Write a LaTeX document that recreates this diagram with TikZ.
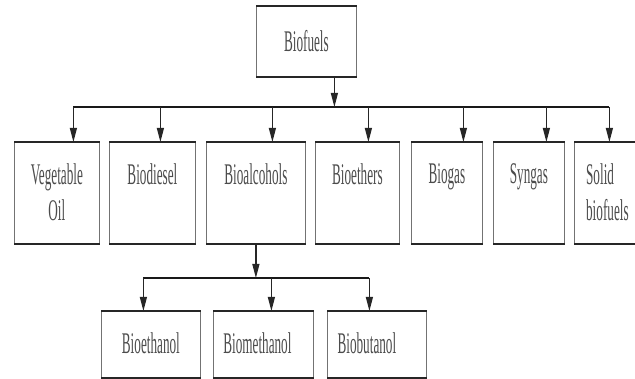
\documentclass[tikz,border=0pt]{standalone}
\usepackage{fontspec}
\setmainfont{Liberation Serif}[FakeStretch=0.44]
\usetikzlibrary{arrows.meta}

\tikzset{
    box/.style={draw=black!55, line width=0.8pt, inner sep=0pt, anchor=north west},
    lbl/.style={font=\fontsize{30}{36}\selectfont, text=black!70, align=center, inner sep=0pt},
    edge/.style={line width=1.8pt, black!85},
    bus/.style={line width=1.8pt, black!90},
    arr/.style={-{Triangle[length=14pt,width=7pt]}, line width=1.2pt, black!85}
}

\begin{document}
\begin{tikzpicture}[x=1pt, y=-1pt]
    \useasboundingbox (0,0) rectangle (635,379);

    % 根
    \node[box, lbl, minimum width=100pt, minimum height=70pt] (bio) at (256,6) {Biofuels};

    % 第一层
    \node[box, minimum width=85pt, minimum height=101pt,
        label={[lbl, anchor=north, yshift=-21pt]north:{Vegetable\\Oil}}] (veg) at (14,142) {};
    \node[box, minimum width=86pt, minimum height=101pt,
        label={[lbl, anchor=north, yshift=-21pt]north:Biodiesel}] (dsl) at (109,142) {};
    \node[box, minimum width=99pt, minimum height=101pt,
        label={[lbl, anchor=north, yshift=-21pt]north:Bioalcohols}] (alc) at (206,142) {};
    \node[box, minimum width=84pt, minimum height=101pt,
        label={[lbl, anchor=north, yshift=-21pt]north:Bioethers}] (eth) at (315,142) {};
    \node[box, minimum width=71pt, minimum height=101pt,
        label={[lbl, anchor=north, yshift=-21pt]north:Biogas}] (gas) at (411,142) {};
    \node[box, minimum width=71pt, minimum height=101pt,
        label={[lbl, anchor=north, yshift=-21pt]north:Syngas}] (syn) at (493,142) {};
    \node[box, minimum width=66pt, minimum height=101pt,
        label={[lbl, align=left, anchor=north, yshift=-21pt]north:{Solid\\biofuels}}] (sol) at (574,142) {};

    % 第二层
    \node[box, minimum width=99pt, minimum height=66pt,
        label={[lbl, anchor=north, yshift=-21pt]north:Bioethanol}] (etoh) at (101,311) {};
    \node[box, minimum width=100pt, minimum height=66pt,
        label={[lbl, anchor=north, yshift=-21pt, xshift=-6pt]north:Biomethanol}] (meoh) at (213,311) {};
    \node[box, minimum width=99pt, minimum height=66pt,
        label={[lbl, anchor=north, yshift=-21pt, xshift=-10pt]north:Biobutanol}] (buoh) at (327,311) {};

    % 上下粗边
    \foreach \n in {bio,veg,dsl,alc,eth,gas,syn,sol,etoh,meoh,buoh} {
        \draw[edge] (\n.north west) -- (\n.north east);
        \draw[edge] (\n.south west) -- (\n.south east);
    }

    % 第一层连线
    \coordinate (bus) at (0,107);
    \coordinate (bioOut) at ([xshift=28pt]bio.south);
    \foreach \n/\dx in {veg/16.5, dsl/8, alc/16.5, eth/11, gas/16.5, syn/17.5, sol/2}
        \coordinate (\n-in) at ([xshift=\dx pt]\n.north);
    \draw[bus] (veg-in |- bus) -- (sol-in |- bus);
    \draw[arr] (bioOut) -- (bioOut |- bus);
    \foreach \n in {veg,dsl,alc,eth,gas,syn,sol}
        \draw[arr] (\n-in |- bus) -- (\n-in);

    % 第二层连线
    \coordinate (sub) at (0,278);
    \foreach \n/\dx in {etoh/-7.5, meoh/8, buoh/-7.5}
        \coordinate (\n-in) at ([xshift=\dx pt]\n.north);
    \draw[bus] (etoh-in |- sub) -- (buoh-in |- sub);
    \draw[arr] (alc.south) -- (alc.south |- sub);
    \foreach \n in {etoh,meoh,buoh}
        \draw[arr] (\n-in |- sub) -- (\n-in);
\end{tikzpicture}
\end{document}
